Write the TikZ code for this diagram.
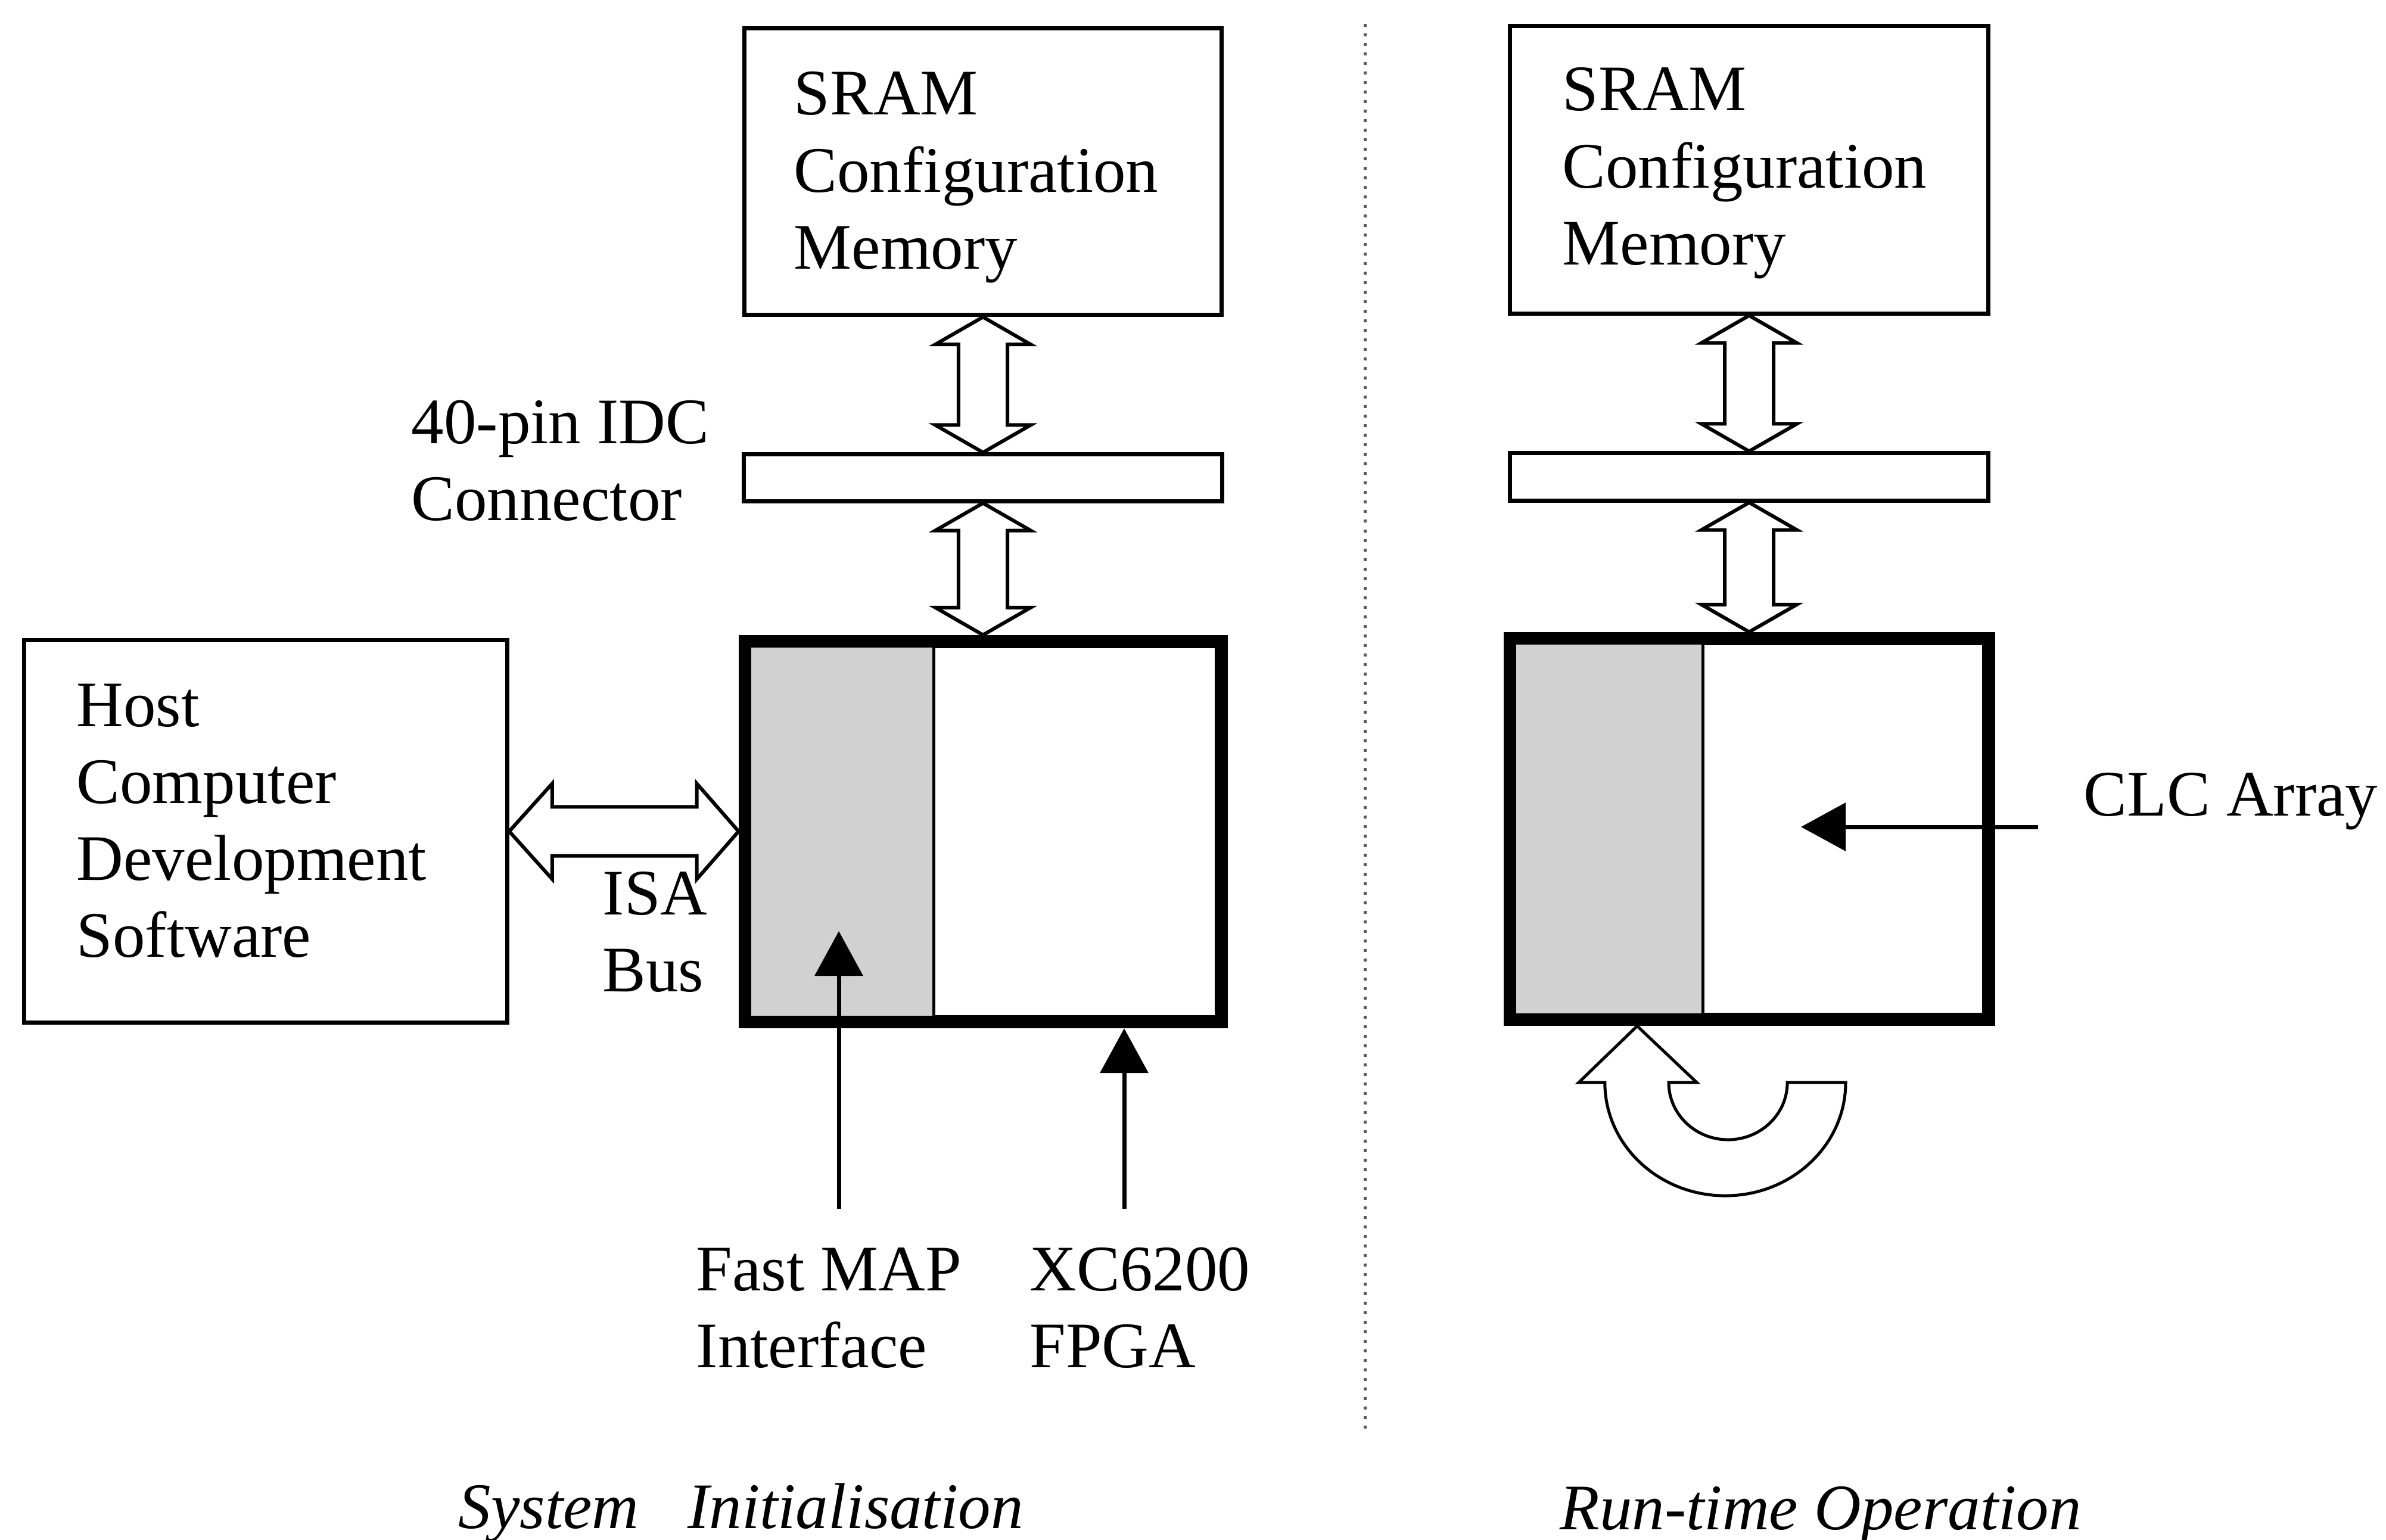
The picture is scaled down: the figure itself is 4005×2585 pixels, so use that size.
\documentclass[tikz,border=0pt]{standalone}
\usepackage{fontspec}
\setmainfont{Liberation Serif}
\usetikzlibrary{arrows.meta,calc}

% hollow double-headed bus arrow, vertical: from top anchor #1 down to #2
\newcommand\vbusarrow[2]{%
  \draw[busarrow] let \p1=(#1), \p2=(#2) in
    (\x1,\y1) -- (\x1+0.8cm,\y1-0.46cm) -- (\x1+0.41cm,\y1-0.46cm)
    -- (\x1+0.41cm,\y2+0.46cm) -- (\x1+0.8cm,\y2+0.46cm) -- (\x1,\y2)
    -- (\x1-0.8cm,\y2+0.46cm) -- (\x1-0.41cm,\y2+0.46cm)
    -- (\x1-0.41cm,\y1-0.46cm) -- (\x1-0.8cm,\y1-0.46cm) -- cycle;}
% hollow double-headed bus arrow, horizontal: from left anchor #1 to #2
\newcommand\hbusarrow[2]{%
  \draw[busarrow] let \p1=(#1), \p2=(#2) in
    (\x1,\y1) -- (\x1+0.72cm,\y1+0.8cm) -- (\x1+0.72cm,\y1+0.41cm)
    -- (\x2-0.7cm,\y1+0.41cm) -- (\x2-0.7cm,\y1+0.8cm) -- (\x2,\y1)
    -- (\x2-0.7cm,\y1-0.8cm) -- (\x2-0.7cm,\y1-0.41cm)
    -- (\x1+0.72cm,\y1-0.41cm) -- (\x1+0.72cm,\y1-0.8cm) -- cycle;}

\begin{document}
\begin{tikzpicture}[x=0.01cm,y=-0.01cm,
  font=\fontsize{31}{36.7}\selectfont,
  thinbox/.style={draw, line width=0.07cm, fill=white, inner sep=0pt},
  chipbox/.style={draw, line width=0.22cm, inner sep=0pt},
  txt/.style={anchor=base west, inner sep=0pt},
  busarrow/.style={draw, fill=white, line width=0.06cm, line join=miter},
  pointer/.style={line width=0.07cm, -{Triangle[length=0.75cm,width=0.8cm]}},
  sepline/.style={line width=0.05cm, black!65, dash pattern=on 0.05cm off 0.11cm},
  divider/.style={line width=0.05cm},
  shade/.style={fill=black!18}]

\fill[white] (0,0) rectangle (4005,2585);
\useasboundingbox (0,0) rectangle (4005,2585);

% ---------------- left half: system initialisation ----------------
\node[thinbox, minimum width=8.01cm, minimum height=4.81cm] (sramL) at (1650,288) {};
\node[thinbox, minimum width=8.02cm, minimum height=0.78cm] (connL) at (1650,802) {};
\node[thinbox, minimum width=8.10cm, minimum height=6.41cm] (host) at (446,1395.5) {};
\node[chipbox, minimum width=7.99cm, minimum height=6.38cm] (fpgaL) at (1650.5,1396) {};
\coordinate (divL) at (1567,1396);
\fill[shade] ($(fpgaL.north west)+(21,21)$) rectangle ($(divL |- fpgaL.south)+(0,-21)$);
\draw[divider] (divL |- fpgaL.north) -- (divL |- fpgaL.south);

\vbusarrow{sramL.south}{connL.north}
\vbusarrow{connL.south}{fpgaL.north}
\hbusarrow{host.east}{fpgaL.west}

\coordinate (fmapFoot) at (1408,2029);
\coordinate (fmapTip) at (1408,1563);
\draw[pointer] (fmapFoot) -- (fmapTip);
\coordinate (xcFoot) at (1887,2029);
\draw[pointer] (xcFoot) -- (xcFoot |- fpgaL.south);

\node[txt] (tSramL) at (1332,193) {\begin{tabular}[t]{@{}l@{}}SRAM\\Configuration\\Memory\end{tabular}};
\node[txt] (tHost) at (128,1219) {\begin{tabular}[t]{@{}l@{}}Host\\Computer\\Development\\Software\end{tabular}};
\node[txt] (tIdc) at (690,744) {\begin{tabular}[t]{@{}l@{}}40-pin IDC\\Connector\end{tabular}};
\node[txt] (tIsa) at (1011,1535) {\begin{tabular}[t]{@{}l@{}}ISA\\Bus\end{tabular}};
\node[txt] (tFmap) at (1168,2166) {\begin{tabular}[t]{@{}l@{}}Fast MAP\\Interface\end{tabular}};
\node[txt] (tXc) at (1728,2166) {\begin{tabular}[t]{@{}l@{}}XC6200\\FPGA\end{tabular}};
\node[txt, font=\fontsize{31}{36.7}\selectfont\itshape] (capL) at (769,2565) {System\ \ \ Initialisation};

% ---------------- separator ----------------
\coordinate (sepTop) at (2291,40);
\coordinate (sepBot) at (2291,2406);
\draw[sepline] (sepTop) -- (sepBot);

% ---------------- right half: run-time operation ----------------
\node[thinbox, minimum width=8.03cm, minimum height=4.82cm] (sramR) at (2936,285) {};
\node[thinbox, minimum width=8.03cm, minimum height=0.79cm] (connR) at (2936,800.5) {};
\node[chipbox, minimum width=8.03cm, minimum height=6.39cm] (fpgaR) at (2936.5,1391.5) {};
\coordinate (divR) at (2858,1391);
\fill[shade] ($(fpgaR.north west)+(21,21)$) rectangle ($(divR |- fpgaR.south)+(0,-21)$);
\draw[divider] (divR |- fpgaR.north) -- (divR |- fpgaR.south);

\vbusarrow{sramR.south}{connR.north}
\vbusarrow{connR.south}{fpgaR.north}

\coordinate (clcFoot) at (3421,1388);
\coordinate (clcTip) at (3023,1388);
\draw[pointer] (clcFoot) -- (clcTip);

% U-shaped feedback arrow under the array
\coordinate (loopX) at (2748,1900);
\draw[busarrow, line width=0.05cm] (loopX |- fpgaR.south) -- (2848,1817) -- (2801,1817)
  arc[start angle=180, end angle=360, x radius=0.995cm, y radius=0.96cm]
  -- (3098,1817)
  arc[start angle=0, end angle=-180, x radius=2.02cm, y radius=1.9cm]
  -- (2650,1817) -- cycle;

\node[txt] (tSramR) at (2622,186) {\begin{tabular}[t]{@{}l@{}}SRAM\\Configuration\\Memory\end{tabular}};
\node[txt] (tClc) at (3497,1369) {CLC Array};
\node[txt, font=\fontsize{31}{36.7}\selectfont\itshape] (capR) at (2618,2567) {Run-time Operation};

\end{tikzpicture}
\end{document}
